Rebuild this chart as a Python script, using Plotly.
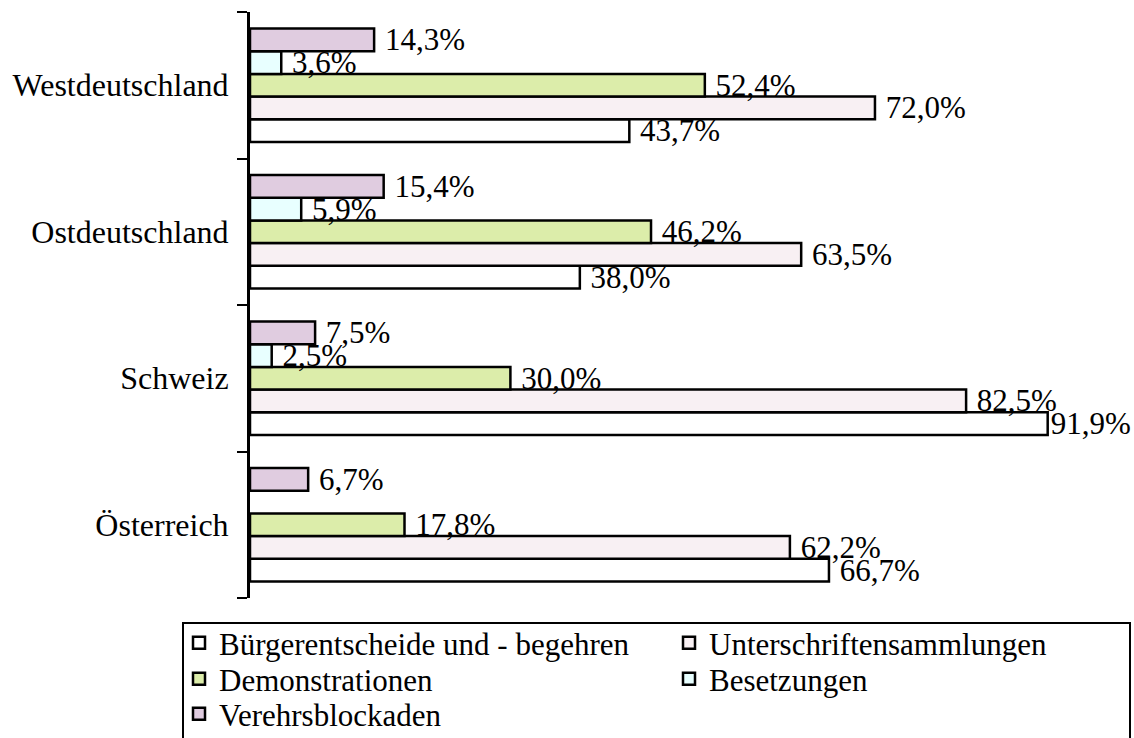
import plotly.graph_objects as go

# categories, bottom to top
regions = ["Österreich", "Schweiz", "Ostdeutschland", "Westdeutschland"]

buergerentscheide = [66.7, 91.9, 38.0, 43.7]
unterschriften = [62.2, 82.5, 63.5, 72.0]
demonstrationen = [17.8, 30.0, 46.2, 52.4]
besetzungen = [None, 2.5, 5.9, 3.6]
blockaden = [6.7, 7.5, 15.4, 14.3]

# name, values, fill colour, legend row
series = [
    ("Bürgerentscheide und - begehren", buergerentscheide, "#ffffff", "legend"),
    ("Unterschriftensammlungen", unterschriften, "#f8f0f3", "legend"),
    ("Demonstrationen", demonstrationen, "#dcedaa", "legend2"),
    ("Besetzungen", besetzungen, "#e8ffff", "legend2"),
    ("Verehrsblockaden", blockaden, "#e0cce0", "legend3"),
]

FONT = "Liberation Serif, Times New Roman, serif"

# plot area in pixels: x 250..1118, y 12..598
def px_x(px):
    return (px - 250) / 868

def px_y(py):
    return (598 - py) / 586


def fmt(v):
    if v is None:
        return ""
    s = f"{v:.1f}".replace(".", ",") + "%"
    # labels near the right edge sit right against the bar
    return s if v > 90 else " " + s


fig = go.Figure()
for name, vals, color, leg in series:
    fig.add_trace(go.Bar(
        y=regions, x=vals, name=name, orientation="h",
        marker=dict(color=color, line=dict(color="black", width=2.5)),
        text=[fmt(v) for v in vals],
        textposition="outside",
        textfont=dict(family=FONT, size=31, color="black"),
        constraintext="none",
        cliponaxis=False,
        hoverinfo="x+y+name",
        legend=leg,
    ))

legend_style = dict(
    orientation="h", traceorder="normal",
    x=px_x(179), xanchor="left", yanchor="top",
    entrywidth=445, entrywidthmode="pixels",
    borderwidth=0, bgcolor="rgba(0,0,0,0)",
    font=dict(family=FONT, size=31, color="black"),
    itemwidth=30,
)

fig.update_layout(
    width=1134, height=738,
    barmode="group", bargap=0.225, bargroupgap=0,
    paper_bgcolor="white", plot_bgcolor="white",
    font=dict(family=FONT, size=31, color="black"),
    margin=dict(l=250, r=16, t=12, b=140, autoexpand=False),
    xaxis=dict(range=[0, 100], visible=False),
    yaxis=dict(
        type="category", range=[-0.5, 3.5],
        showline=True, linecolor="black", linewidth=3,
        ticks="outside", tickson="boundaries", ticklen=10,
        tickwidth=2, tickcolor="black", ticklabelstandoff=12,
        showgrid=False, zeroline=False, automargin=False,
        tickfont=dict(family=FONT, size=32, color="black"),
    ),
    legend=dict(legend_style, y=px_y(616)),
    legend2=dict(legend_style, y=px_y(652)),
    legend3=dict(legend_style, y=px_y(687)),
    showlegend=True,
    shapes=[dict(
        type="rect", xref="paper", yref="paper",
        x0=px_x(183), x1=px_x(1130), y0=px_y(623), y1=px_y(760),
        line=dict(color="black", width=2), fillcolor="rgba(0,0,0,0)",
        layer="below",
    )],
)

fig.write_html("out.html", config={"displayModeBar": False},
               post_script="document.body.style.margin='0px';")
